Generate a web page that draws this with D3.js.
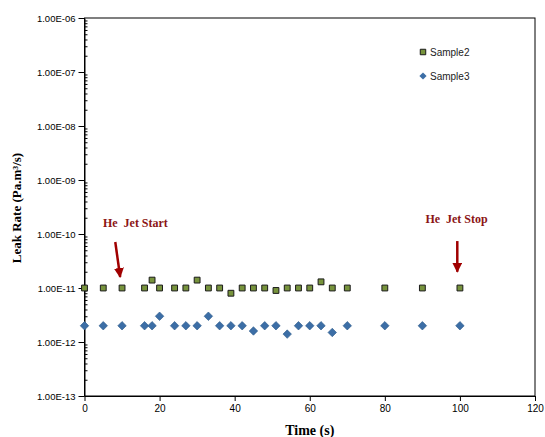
<!DOCTYPE html>
<html>
<head>
<meta charset="utf-8">
<script src="https://cdn.jsdelivr.net/npm/d3@7"></script>
<style>
  body { margin: 0; background: #fff; }
  text { white-space: pre; }
</style>
</head>
<body>
<div id="container"></div>
<script>
// Data
const time = [0, 5, 10, 16, 18, 20, 24, 27, 30, 33, 36, 39, 42, 45, 48, 51, 54, 57, 60, 63, 66, 70, 80, 90, 100];
const sample2 = [1e-11, 1e-11, 1e-11, 1e-11, 1.4e-11, 1e-11, 1e-11, 1e-11, 1.4e-11, 1e-11, 1e-11, 8e-12, 1e-11,
                 1e-11, 1e-11, 9e-12, 1e-11, 1e-11, 1e-11, 1.3e-11, 1e-11, 1e-11, 1e-11, 1e-11, 1e-11];
const sample3 = [2e-12, 2e-12, 2e-12, 2e-12, 2e-12, 3e-12, 2e-12, 2e-12, 2e-12, 3e-12, 2e-12, 2e-12, 2e-12,
                 1.6e-12, 2e-12, 2e-12, 1.4e-12, 2e-12, 2e-12, 2e-12, 1.5e-12, 2e-12, 2e-12, 2e-12, 2e-12];
const xTicks = [0, 20, 40, 60, 80, 100, 120];
const yTicks = [1e-13, 1e-12, 1e-11, 1e-10, 1e-9, 1e-8, 1e-7, 1e-6];
const yTickLabels = ["1.00E-13", "1.00E-12", "1.00E-11", "1.00E-10", "1.00E-09", "1.00E-08", "1.00E-07", "1.00E-06"];
const seriesNames = ["Sample2", "Sample3"];

// Annotations in data coordinates
const notes = [
  { text: "He  Jet Start", x: 4.9, y: 1.35e-10, from: [8.2, 7.1e-11], to: [9.5, 1.6e-11] },
  { text: "He  Jet Stop", x: 90.8, y: 1.6e-10, from: [99.3, 7.4e-11], to: [99.3, 2e-11] }
];

const width = 545;
const height = 437;
const margin = { top: 18, right: 10, bottom: 41, left: 84.5 };

const svg = d3.select("#container")
  .append("svg")
  .attr("width", width)
  .attr("height", height);

const x = d3.scaleLinear()
  .domain([0, 120])
  .range([margin.left, width - margin.right]);

const y = d3.scaleLog()
  .domain([1e-13, 1e-6])
  .range([height - margin.bottom, margin.top]);

// minor ticks 2..9 of each decade
const minorTicks = [];
yTicks.slice(0, -1).forEach(d => {
  for (let k = 2; k <= 9; k++) minorTicks.push(d * k);
});

// Frame
svg.append("rect")
  .attr("x", x(0))
  .attr("y", y(1e-6))
  .attr("width", x(120) - x(0))
  .attr("height", y(1e-13) - y(1e-6))
  .attr("fill", "none")
  .attr("stroke", "#000")
  .attr("stroke-width", 1);

// X axis
const xAxis = svg.append("g")
  .attr("transform", `translate(0, ${y(1e-13)})`)
  .call(d3.axisBottom(x).tickValues(xTicks).tickSize(5).tickSizeOuter(0).tickPadding(4));
xAxis.selectAll("text")
  .style("font-family", "'Liberation Sans', Arial, sans-serif")
  .style("font-size", "10px")
  .attr("fill", "#000");

// Y axis minor ticks (inside)
svg.append("g")
  .attr("transform", `translate(${x(0)}, 0)`)
  .call(d3.axisLeft(y).tickValues(minorTicks).tickSize(-3).tickFormat(""))
  .call(g => g.select(".domain").remove());

// Y axis major ticks
const yAxis = svg.append("g")
  .attr("transform", `translate(${x(0)}, 0)`)
  .call(d3.axisLeft(y).tickValues(yTicks).tickSize(6).tickSizeOuter(0).tickPadding(3)
    .tickFormat((d, i) => yTickLabels[i]));
yAxis.selectAll("text")
  .style("font-family", "'Liberation Sans', Arial, sans-serif")
  .style("font-size", "9.5px")
  .attr("fill", "#000");

svg.selectAll(".domain, .tick line").attr("stroke", "#000");

// Axis titles
svg.append("text")
  .attr("x", (x(0) + x(120)) / 2)
  .attr("y", 435)
  .attr("text-anchor", "middle")
  .style("font-family", "'Liberation Serif', 'Times New Roman', serif")
  .style("font-weight", "bold")
  .style("font-size", "14px")
  .text("Time (s)");

svg.append("text")
  .attr("transform", "translate(21, 208) rotate(-90)")
  .attr("text-anchor", "middle")
  .style("font-family", "'Liberation Serif', 'Times New Roman', serif")
  .style("font-weight", "bold")
  .style("font-size", "13px")
  .text("Leak Rate (Pa.m³/s)");

// Markers
const square = d3.symbol(d3.symbolSquare, 34);
const diamond = d3.symbol(d3.symbolSquare, 36);

svg.append("g")
  .selectAll("path")
  .data(time.map((t, i) => [t, sample3[i]]))
  .join("path")
  .attr("d", diamond)
  .attr("transform", d => `translate(${x(d[0])}, ${y(d[1])}) rotate(45)`)
  .attr("fill", "#3C6EA6")
  .attr("stroke", "#2D5A8A")
  .attr("stroke-width", 0.6);

svg.append("g")
  .selectAll("path")
  .data(time.map((t, i) => [t, sample2[i]]))
  .join("path")
  .attr("d", square)
  .attr("transform", d => `translate(${x(d[0])}, ${y(d[1])})`)
  .attr("fill", "#77933C")
  .attr("stroke", "#1a1a1a")
  .attr("stroke-width", 1);

// Legend
const legend = svg.append("g").attr("transform", "translate(423, 52)");
legend.append("path")
  .attr("d", d3.symbol(d3.symbolSquare, 30))
  .attr("fill", "#77933C")
  .attr("stroke", "#1a1a1a");
legend.append("path")
  .attr("d", d3.symbol(d3.symbolSquare, 26))
  .attr("transform", "translate(0, 24) rotate(45)")
  .attr("fill", "#3C6EA6");
legend.selectAll("text")
  .data(seriesNames)
  .join("text")
  .attr("x", 7)
  .attr("y", (d, i) => i * 24)
  .attr("dy", "0.35em")
  .style("font-family", "'Liberation Sans', Arial, sans-serif")
  .style("font-size", "10px")
  .attr("fill", "#222")
  .text(d => d);

// Arrow marker
svg.append("defs")
  .append("marker")
  .attr("id", "arrow")
  .attr("viewBox", "0 0 10 10")
  .attr("refX", 9)
  .attr("refY", 5)
  .attr("markerWidth", 4)
  .attr("markerHeight", 4)
  .attr("markerUnits", "strokeWidth")
  .attr("orient", "auto")
  .append("path")
  .attr("d", "M0,0 L10,5 L0,10 z")
  .attr("fill", "#A00000");

// Annotations
notes.forEach(n => {
  svg.append("text")
    .attr("x", x(n.x))
    .attr("y", y(n.y))
    .style("font-family", "'Liberation Serif', 'Times New Roman', serif")
    .style("font-weight", "bold")
    .style("font-size", "12px")
    .attr("fill", "#8B1515")
    .text(n.text);
  svg.append("line")
    .attr("x1", x(n.from[0]))
    .attr("y1", y(n.from[1]))
    .attr("x2", x(n.to[0]))
    .attr("y2", y(n.to[1]))
    .attr("stroke", "#A00000")
    .attr("stroke-width", 2.5)
    .attr("marker-end", "url(#arrow)");
});
</script>
</body>
</html>
